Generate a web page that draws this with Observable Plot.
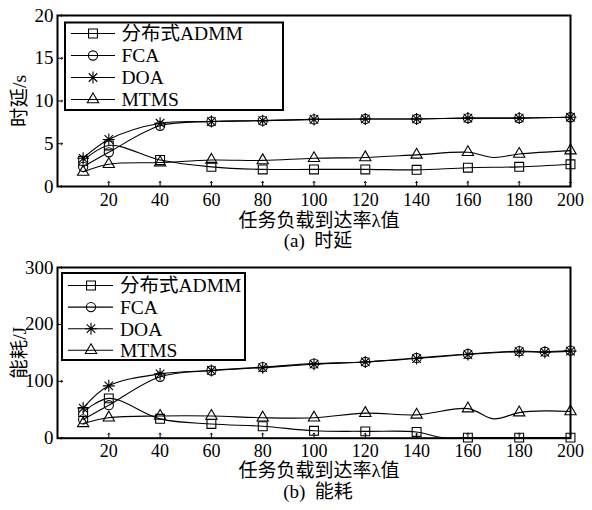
<!DOCTYPE html>
<html><head><meta charset="utf-8">
<script src="https://cdn.jsdelivr.net/npm/d3@7"></script>
<script src="https://cdn.jsdelivr.net/npm/@observablehq/plot@0.6"></script>
<style>
body{margin:0;background:#fff;}
#wrap{position:relative;width:592px;height:510px;overflow:hidden;background:#fff;}
#wrap > svg{display:block}
#legend{position:absolute;left:0;top:0;pointer-events:none}
</style></head><body><div id="wrap"></div>
<script>
const FONT = '"Liberation Serif","Noto Sans CJK SC",serif';
const seriesNames = ["分布式ADMM", "FCA", "DOA", "MTMS"];
const xTicks = [20, 40, 60, 80, 100, 120, 140, 160, 180, 200];
const xLabel = "任务负载到达率λ值";

// ---- (a) delay ----
const delayTicks = [0, 5, 10, 15, 20];
const delayMarkX = [10, 20, 40, 60, 80, 100, 120, 140, 160, 180, 200];
const delayAdmmX = [10, 20, 40, 60, 80, 100, 120, 140, 160, 180, 200];
const delayAdmm  = [3.0, 4.8, 3.1, 2.3, 2.0, 2.0, 2.0, 1.95, 2.2, 2.3, 2.6];
const delayFcaX  = [10, 20, 40, 60, 80, 100, 120, 140, 160, 180, 200];
const delayFca   = [2.3, 4.0, 7.1, 7.6, 7.7, 7.85, 7.9, 7.9, 8.0, 8.0, 8.1];
const delayDoaX  = [10, 20, 40, 60, 80, 100, 120, 140, 160, 180, 200];
const delayDoa   = [3.3, 5.5, 7.4, 7.6, 7.7, 7.85, 7.9, 7.9, 8.0, 8.0, 8.1];
const delayMtmsX = [10, 20, 40, 60, 80, 100, 120, 140, 160, 170, 180, 200];
const delayMtms  = [1.7, 2.6, 2.8, 3.1, 3.05, 3.3, 3.4, 3.7, 4.0, 3.4, 3.8, 4.2];

// ---- (b) energy ----
const energyTicks = [0, 100, 200, 300];
const energyMarkX = [10, 20, 40, 60, 80, 100, 120, 140, 160, 180, 200];
const energyMarkXFD = [10, 20, 40, 60, 80, 100, 120, 140, 160, 180, 190, 200];
const energyAdmmX = [10, 20, 40, 60, 80, 100, 120, 140, 150, 160, 180, 200];
const energyAdmm  = [46, 70, 34, 25, 21, 13, 12, 11, 1, 1, 1, 1];
const energyFcaX  = [10, 20, 40, 60, 80, 100, 120, 140, 160, 180, 190, 200];
const energyFca   = [33, 58, 108, 119, 125, 131, 134, 141, 148, 153, 152, 154];
const energyDoaX  = [10, 20, 40, 60, 80, 100, 120, 140, 160, 180, 190, 200];
const energyDoa   = [53, 92, 113, 119, 124, 130, 134, 140, 147, 152, 151, 153];
const energyMtmsX = [10, 20, 40, 60, 80, 100, 120, 140, 160, 170, 180, 190, 200];
const energyMtms  = [26, 36, 39, 39, 36, 36, 44, 41, 52, 34, 45, 48, 47];

// 8-armed asterisk (MATLAB '*')
const asterisk8 = {
  draw(ctx, size) {
    const r = Math.sqrt(size / Math.PI), d = r * Math.SQRT1_2;
    ctx.moveTo(0, -r); ctx.lineTo(0, r);
    ctx.moveTo(-r, 0); ctx.lineTo(r, 0);
    ctx.moveTo(-d, -d); ctx.lineTo(d, d);
    ctx.moveTo(-d, d); ctx.lineTo(d, -d);
  }
};
const symbolOf = {"分布式ADMM": "square", "FCA": "circle", "DOA": asterisk8, "MTMS": "triangle"};
const rOf = {"分布式ADMM": 5.0, "FCA": 4.6, "DOA": 6.0, "MTMS": 4.2};
const d3SymOf = {"分布式ADMM": d3.symbolSquare, "FCA": d3.symbolCircle, "DOA": asterisk8, "MTMS": d3.symbolTriangle};

function rows(name, xs, ys) { return xs.map((x, i) => ({s: name, x, y: ys[i]})); }

function panel({series, yDomain, yTicks, height, marginTop, marginBottom, yLabel, caption, xLabDy, capDy, tickPad}) {
  const lineRows = series.flatMap(d => rows(d.name, d.x, d.y));
  const marks = [
    Plot.line(lineRows, {x: "x", y: "y", z: "s", curve: "catmull-rom", stroke: "black", strokeWidth: 1.1})
  ];
  for (const d of series) {
    const mr = rows(d.name, d.x, d.y).filter(p => d.mark.includes(p.x));
    marks.push(Plot.dot(mr, {x: "x", y: "y", symbol: symbolOf[d.name], r: rOf[d.name], stroke: "black", fill: "none", strokeWidth: 1.1}));
  }
  marks.push(
    Plot.vector(yTicks, {y: t => t, frameAnchor: "left", length: 5, rotate: 90, anchor: "start", stroke: "black", strokeWidth: 1}),
    Plot.vector(xTicks, {x: t => t, frameAnchor: "bottom", length: 5, rotate: 0, anchor: "start", stroke: "black", strokeWidth: 1}),
    Plot.frame({stroke: "black", strokeWidth: 2}),
    Plot.axisY(yTicks, {tickSize: 0, tickPadding: 4, fontSize: 19, fontFamily: FONT, label: null}),
    Plot.axisX(xTicks, {tickSize: 0, tickPadding: tickPad, fontSize: 18, fontFamily: FONT, label: null}),
    Plot.text([yLabel], {text: t => t, frameAnchor: "left", dx: -38, rotate: -90, textAnchor: "middle", lineAnchor: "middle", fontSize: 19.5, fontFamily: FONT}),
    Plot.text([xLabel], {text: t => t, frameAnchor: "bottom", dy: xLabDy, dx: 5, textAnchor: "middle", lineAnchor: "middle", fontSize: 19, fontFamily: FONT}),
    Plot.text([caption], {text: t => t, frameAnchor: "bottom", dy: capDy, dx: 4, textAnchor: "middle", lineAnchor: "middle", fontSize: 19, fontFamily: FONT})
  );
  return Plot.plot({
    width: 592, height, marginLeft: 57, marginRight: 22, marginTop, marginBottom,
    style: {fontFamily: FONT, color: "black", background: "white", overflow: "visible"},
    x: {domain: [0, 200]},
    y: {domain: yDomain},
    marks
  });
}

const wrap = document.getElementById("wrap");
wrap.appendChild(panel({
  series: [
    {name: seriesNames[0], x: delayAdmmX, y: delayAdmm, mark: delayMarkX},
    {name: seriesNames[1], x: delayFcaX, y: delayFca, mark: delayMarkX},
    {name: seriesNames[2], x: delayDoaX, y: delayDoa, mark: delayMarkX},
    {name: seriesNames[3], x: delayMtmsX, y: delayMtms, mark: delayMarkX}
  ],
  yDomain: [0, 20], yTicks: delayTicks, height: 250, marginTop: 15, marginBottom: 64,
  yLabel: "时延/s", caption: "(a)\u2002时延", xLabDy: 34, capDy: 54.5, tickPad: 6.5
}));
wrap.appendChild(panel({
  series: [
    {name: seriesNames[0], x: energyAdmmX, y: energyAdmm, mark: energyMarkX},
    {name: seriesNames[1], x: energyFcaX, y: energyFca, mark: energyMarkXFD},
    {name: seriesNames[2], x: energyDoaX, y: energyDoa, mark: energyMarkXFD},
    {name: seriesNames[3], x: energyMtmsX, y: energyMtms, mark: energyMarkX}
  ],
  yDomain: [0, 300], yTicks: energyTicks, height: 260, marginTop: 17, marginBottom: 72.3,
  yLabel: "能耗/J", caption: "(b)\u2002能耗", xLabDy: 33.2, capDy: 53.8, tickPad: 6
}));

// legends (inside each plot frame, top-left)
const lg = d3.select(wrap).append("svg").attr("id", "legend").attr("width", 592).attr("height", 510);
function legend(box, row0, step, lx0, lx1, mx, tx) {
  lg.append("rect").attr("x", box[0]).attr("y", box[1]).attr("width", box[2] - box[0]).attr("height", box[3] - box[1])
    .attr("fill", "white").attr("stroke", "black").attr("stroke-width", 2);
  seriesNames.forEach((n, i) => {
    const y = row0 + i * step;
    lg.append("line").attr("x1", lx0).attr("x2", lx1).attr("y1", y).attr("y2", y).attr("stroke", "black").attr("stroke-width", 1.1);
    lg.append("path").attr("transform", `translate(${mx},${y})`)
      .attr("d", d3.symbol().type(d3SymOf[n]).size(Math.PI * rOf[n] * rOf[n])())
      .attr("fill", "none").attr("stroke", "black").attr("stroke-width", 1.1);
    lg.append("text").attr("x", tx).attr("y", y).attr("dy", "0.35em").attr("font-family", FONT).attr("font-size", 19.5).text(n);
  });
}
legend([65, 22.5, 283, 110], 33.5, 22, 71, 115, 93, 121.5);
legend([62, 273, 245, 360], 285.5, 21.6, 68, 113, 91, 120);
</script></body></html>
